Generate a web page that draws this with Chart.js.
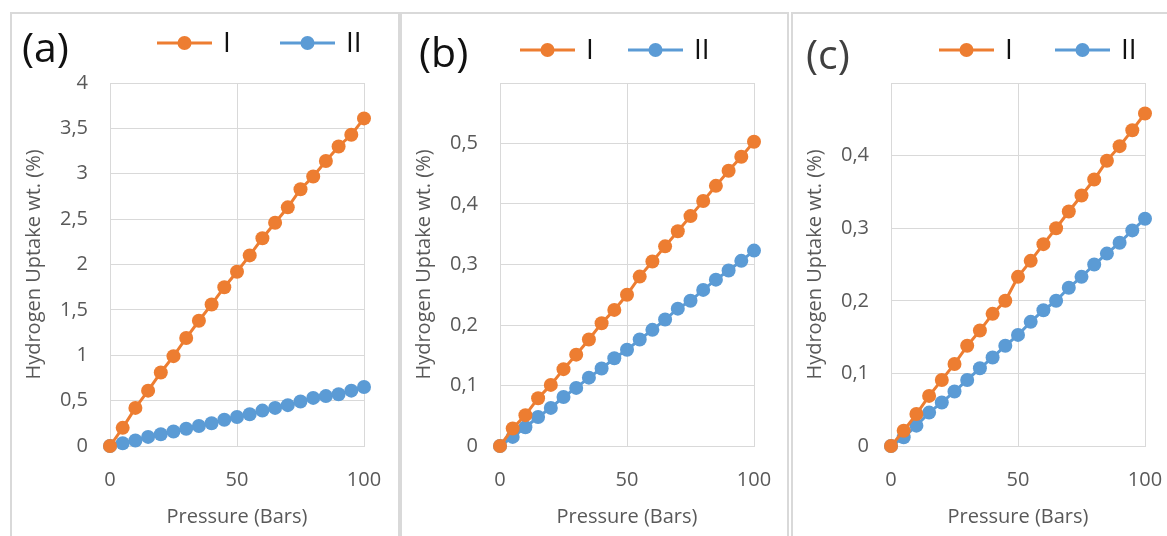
<!DOCTYPE html>
<html>
<head>
<meta charset="utf-8">
<script src="https://cdn.jsdelivr.net/npm/chart.js@4.4.1/dist/chart.umd.min.js"></script>
<style>
  html, body { margin: 0; padding: 0; background: #fff; overflow: hidden; }
  body { width: 1167px; height: 536px; position: relative; }
  .frame { position: absolute; top: 12px; height: 600px; border: 2px solid #d9d9d9; box-sizing: border-box; }
  .plot { position: absolute; top: 0; width: 386px; height: 536px; }
</style>
</head>
<body>
<div class="frame" style="left:10px;width:390px"></div>
<div class="frame" style="left:400px;width:389px"></div>
<div class="frame" style="left:791px;width:420px"></div>
<div class="plot" style="left:12px"><canvas id="chartA" width="386" height="536"></canvas></div>
<div class="plot" style="left:402px"><canvas id="chartB" width="386" height="536"></canvas></div>
<div class="plot" style="left:793px"><canvas id="chartC" width="386" height="536"></canvas></div>

<script>
// pressure in bars
const pressure = [0, 5, 10, 15, 20, 25, 30, 35, 40, 45, 50, 55, 60, 65, 70, 75, 80, 85, 90, 95, 100]

// hydrogen uptake wt. (%)
const uptakeA_I = [0, 0.2, 0.42, 0.61, 0.81, 0.99, 1.19, 1.38, 1.56, 1.75, 1.92, 2.1, 2.29, 2.46, 2.63, 2.83, 2.97, 3.14, 3.3, 3.43, 3.61]
const uptakeA_II = [0, 0.03, 0.06, 0.1, 0.13, 0.16, 0.19, 0.22, 0.25, 0.29, 0.32, 0.35, 0.39, 0.42, 0.45, 0.49, 0.53, 0.55, 0.57, 0.61, 0.65]
const uptakeB_I = [0, 0.029, 0.051, 0.079, 0.101, 0.127, 0.151, 0.176, 0.203, 0.225, 0.25, 0.28, 0.305, 0.33, 0.355, 0.38, 0.405, 0.43, 0.455, 0.478, 0.503]
const uptakeB_II = [0, 0.015, 0.031, 0.048, 0.063, 0.081, 0.096, 0.113, 0.128, 0.145, 0.159, 0.176, 0.192, 0.209, 0.227, 0.24, 0.258, 0.275, 0.29, 0.306, 0.323]
const uptakeC_I = [0, 0.021, 0.044, 0.069, 0.091, 0.113, 0.138, 0.159, 0.182, 0.2, 0.233, 0.255, 0.278, 0.3, 0.323, 0.345, 0.367, 0.393, 0.413, 0.435, 0.458]
const uptakeC_II = [0, 0.012, 0.028, 0.046, 0.06, 0.075, 0.091, 0.107, 0.122, 0.138, 0.153, 0.171, 0.187, 0.2, 0.218, 0.233, 0.25, 0.265, 0.28, 0.297, 0.313]

const seriesNames = ["I", "II"]
const panelTags = ["(a)", "(b)", "(c)"]

const xTicks = [0, 50, 100]
const yTicksA = [0, 0.5, 1, 1.5, 2, 2.5, 3, 3.5, 4]
const yTicksB = [0, 0.1, 0.2, 0.3, 0.4, 0.5, 0.6]
const yTicksC = [0, 0.1, 0.2, 0.3, 0.4, 0.5]

const ORANGE = "#ED7D31"
const BLUE = "#5B9BD5"
const GRID = "#d9d9d9"
const TEXT = "#595959"
const FONT = "'Open Sans', 'Liberation Sans', sans-serif"

// panel letter + legend row drawn on top of each chart
const panelDecor = {
  id: "panelDecor",
  afterDraw(chart, args, opts) {
    const ctx = chart.ctx
    ctx.save()
    ctx.textBaseline = "middle"
    ctx.font = "41px " + FONT
    ctx.fillStyle = opts.tagColor
    ctx.fillText(opts.tag, opts.tagX, opts.tagY)

    chart.data.datasets.forEach((ds, i) => {
      const x = opts.legendX[i]
      const y = opts.legendY
      ctx.strokeStyle = ds.borderColor
      ctx.lineWidth = 3
      ctx.beginPath()
      ctx.moveTo(x, y)
      ctx.lineTo(x + 55, y)
      ctx.stroke()
      ctx.fillStyle = ds.backgroundColor
      ctx.beginPath()
      ctx.arc(x + 27.5, y, 7, 0, Math.PI * 2)
      ctx.fill()
      ctx.fillStyle = "#111"
      ctx.font = "28px " + FONT
      ctx.fillText(ds.label, x + 66, y + 1)
    })
    ctx.restore()
  }
}

function makeDataset(label, values, color) {
  return {
    label: label,
    data: pressure.map((p, i) => ({ x: p, y: values[i] })),
    borderColor: color,
    backgroundColor: color,
    borderWidth: 3,
    pointRadius: 7,
    pointHoverRadius: 7,
    pointBorderWidth: 0,
    tension: 0,
    clip: false
  }
}

function buildPanel(canvasId, seriesI, seriesII, yTicks, hideTopLabel, decor) {
  const yMax = yTicks[yTicks.length - 1]
  new Chart(document.getElementById(canvasId), {
    type: "line",
    data: {
      datasets: [
        makeDataset(seriesNames[0], seriesI, ORANGE),
        makeDataset(seriesNames[1], seriesII, BLUE)
      ]
    },
    plugins: [panelDecor],
    options: {
      responsive: false,
      animation: false,
      devicePixelRatio: 1,
      layout: { padding: { left: 0, top: 83, right: 34, bottom: 0 } },
      plugins: {
        legend: { display: false },
        tooltip: { enabled: false },
        panelDecor: decor
      },
      scales: {
        x: {
          type: "linear",
          min: 0,
          max: 100,
          afterBuildTicks: (scale) => { scale.ticks = xTicks.map(v => ({ value: v })) },
          afterFit: (scale) => {
            scale.height = 90
            // keep the plot edges fixed, labels may overhang
            scale.paddingLeft = 0
            scale.paddingRight = 0
          },
          grid: { color: GRID, lineWidth: 1, drawTicks: false },
          border: { color: GRID },
          ticks: { color: TEXT, font: { family: FONT, size: 20 }, padding: 22 },
          title: {
            display: true,
            text: "Pressure (Bars)",
            color: TEXT,
            font: { family: FONT, size: 20 },
            padding: { top: 0, bottom: 7 }
          }
        },
        y: {
          min: 0,
          max: yMax,
          afterBuildTicks: (scale) => { scale.ticks = yTicks.map(v => ({ value: v })) },
          afterFit: (scale) => { scale.width = 98 },
          grid: { color: GRID, lineWidth: 1, drawTicks: false },
          border: { color: GRID },
          ticks: {
            color: TEXT,
            font: { family: FONT, size: 20 },
            padding: 22,
            callback: (v) => (hideTopLabel && v === yMax) ? "" : String(v).replace(".", ",")
          },
          title: {
            display: true,
            text: "Hydrogen Uptake wt. (%)",
            color: TEXT,
            font: { family: FONT, size: 20 },
            padding: { top: 10, bottom: 0 }
          }
        }
      }
    }
  })
}

buildPanel("chartA", uptakeA_I, uptakeA_II, yTicksA, false,
  { tag: panelTags[0], tagX: 10, tagY: 50, tagColor: "#111", legendX: [145, 268], legendY: 43 })
buildPanel("chartB", uptakeB_I, uptakeB_II, yTicksB, true,
  { tag: panelTags[1], tagX: 17, tagY: 55, tagColor: "#111", legendX: [118, 226], legendY: 50 })
buildPanel("chartC", uptakeC_I, uptakeC_II, yTicksC, true,
  { tag: panelTags[2], tagX: 13, tagY: 57, tagColor: "#404040", legendX: [146, 262], legendY: 50 })
</script>
</body>
</html>
